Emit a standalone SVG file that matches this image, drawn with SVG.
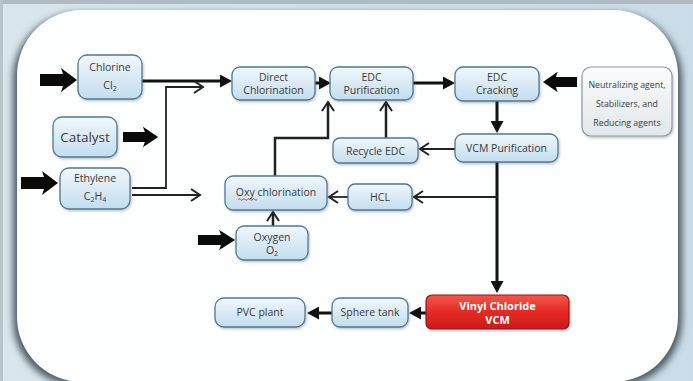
<svg xmlns="http://www.w3.org/2000/svg" width="693" height="381" viewBox="0 0 693 381">
<defs>
<style>
.nd rect{fill:url(#gBlue);stroke:#527890;stroke-width:1.3;filter:url(#sh)}
.t{font-family:"Open Sans","Noto Sans","Liberation Sans",sans-serif;font-size:10.5px;fill:#3a3a3a;text-anchor:middle}
.sub{font-size:7px}
.thick{stroke:#111;stroke-width:3;fill:none;marker-end:url(#solid)}
.thin{stroke:#222;stroke-width:1.8;fill:none;marker-end:url(#chev)}
.mid{stroke:#222;stroke-width:2.5;fill:none;marker-end:url(#chev)}
.blk{fill:#0a0a0a}
</style>
<linearGradient id="gBlue" x1="0" y1="0" x2="0" y2="1">
<stop offset="0" stop-color="#f0f7fc"/><stop offset="1" stop-color="#c3ddee"/>
</linearGradient>
<linearGradient id="gGrey" x1="0" y1="0" x2="0" y2="1">
<stop offset="0" stop-color="#fbfcfd"/><stop offset="1" stop-color="#e1e7eb"/>
</linearGradient>
<linearGradient id="gRed" x1="0" y1="0" x2="0" y2="1">
<stop offset="0" stop-color="#f4564a"/><stop offset="0.5" stop-color="#e42a24"/><stop offset="1" stop-color="#cc1a1a"/>
</linearGradient>
<linearGradient id="gBg" x1="0" y1="0" x2="1" y2="0">
<stop offset="0" stop-color="#d9e6ee"/><stop offset="1" stop-color="#c9dce7"/>
</linearGradient>
<filter id="sh" x="-20%" y="-20%" width="140%" height="150%">
<feDropShadow dx="1" dy="1.5" stdDeviation="1" flood-color="#4a5a66" flood-opacity="0.35"/>
</filter>
<filter id="cardSh" x="-10%" y="-10%" width="120%" height="120%">
<feGaussianBlur stdDeviation="3.5"/>
</filter>
<marker id="solid" markerUnits="userSpaceOnUse" markerWidth="12" markerHeight="13" viewBox="0 0 12 13" refX="1" refY="6.5" orient="auto">
<path d="M0,0 L12,6.5 L0,13 z" fill="#111"/>
</marker>
<marker id="chev" markerUnits="userSpaceOnUse" markerWidth="12" markerHeight="14" viewBox="-1 -1 12 14" refX="9" refY="6" orient="auto">
<path d="M0,0 L9,6 L0,12" fill="none" stroke="#222" stroke-width="2"/>
</marker>
<path id="blkArrow" d="M0,-6 L23,-6 L21,-12 L37,0 L21,12 L23,6 L0,6 z"/>
</defs>

<!-- background -->
<rect x="0" y="0" width="693" height="381" fill="url(#gBg)"/>
<rect x="0" y="0" width="693" height="4" fill="#b0bac2"/>
<rect x="0" y="0" width="3" height="381" fill="#b9c5cd"/>
<rect x="13" y="13" width="669" height="373" rx="66" fill="#4e5a62" filter="url(#cardSh)"/>
<rect x="17" y="10" width="661" height="372" rx="65" fill="#fdfefe"/>

<!-- input block arrows -->
<g id="inputs" class="blk">
<use href="#blkArrow" transform="translate(40,80)"/>
<use href="#blkArrow" transform="translate(123,137) scale(0.95,0.85)"/>
<use href="#blkArrow" transform="translate(21,183)"/>
<use href="#blkArrow" transform="translate(198,240) scale(1,0.85)"/>
<use href="#blkArrow" transform="translate(577,82) scale(-0.92,0.85)"/>
</g>

<!-- connectors -->
<g id="connectors">
<line class="thick" x1="142" y1="81" x2="221" y2="81"/>
<polyline class="thin" points="132,188 166,188 166,87 203,87"/>
<line class="thin" x1="132" y1="195" x2="200" y2="195"/>
<line class="thick" x1="315" y1="83" x2="320" y2="83"/>
<line class="thick" x1="413" y1="83" x2="444" y2="83"/>
<line class="thick" x1="497" y1="101" x2="497" y2="122"/>
<line class="thick" x1="497" y1="162" x2="497" y2="282"/>
<line class="thin" x1="455" y1="149" x2="420" y2="149"/>
<line class="thin" x1="497" y1="197" x2="414" y2="197"/>
<line class="thin" x1="348" y1="197" x2="329" y2="197"/>
<line class="mid" x1="273" y1="226" x2="273" y2="212"/>
<line class="mid" x1="386" y1="138" x2="386" y2="102"/>
<polyline class="mid" points="275,176 275,138 328,138 328,102"/>
<line class="thick" x1="426" y1="313" x2="420" y2="313"/>
<line class="thick" x1="332" y1="313" x2="318" y2="313"/>
</g>

<!-- nodes -->
<g id="chlorine" class="nd"><rect x="78" y="55" width="64" height="44" rx="9"/>
<text class="t" x="110" y="71">Chlorine</text><text class="t" x="110" y="89">Cl<tspan class="sub" dy="2">2</tspan></text></g>

<g id="catalyst" class="nd"><rect x="53" y="117" width="64" height="40" rx="9"/>
<text class="t" x="85" y="142" style="font-size:13.5px">Catalyst</text></g>

<g id="ethylene" class="nd"><rect x="60" y="168" width="70" height="41" rx="9"/>
<text class="t" x="95" y="182">Ethylene</text><text class="t" x="95" y="200">C<tspan class="sub" dy="2">2</tspan><tspan dy="-2">H</tspan><tspan class="sub" dy="2">4</tspan></text></g>

<g id="direct-chlorination" class="nd"><rect x="232" y="67" width="83" height="33" rx="8"/>
<text class="t" x="273.5" y="81">Direct</text><text class="t" x="273.5" y="94">Chlorination</text></g>

<g id="edc-purification" class="nd"><rect x="330" y="67" width="83" height="33" rx="8"/>
<text class="t" x="371.5" y="81">EDC</text><text class="t" x="371.5" y="94">Purification</text></g>

<g id="edc-cracking" class="nd"><rect x="455" y="67" width="84" height="34" rx="8"/>
<text class="t" x="497" y="81">EDC</text><text class="t" x="497" y="94">Cracking</text></g>

<g id="additives"><rect x="582" y="67" width="90" height="69" rx="9" fill="url(#gGrey)" stroke="#8d989f" stroke-width="1.2" filter="url(#sh)"/>
<text class="t" x="627" y="88" style="font-size:8.8px">Neutralizing agent,</text>
<text class="t" x="627" y="107" style="font-size:8.8px">Stabilizers, and</text>
<text class="t" x="627" y="126" style="font-size:8.8px">Reducing agents</text></g>

<g id="recycle-edc" class="nd"><rect x="333" y="138" width="85" height="25" rx="7"/>
<text class="t" x="375.5" y="154.5">Recycle EDC</text></g>

<g id="vcm-purification" class="nd"><rect x="455" y="134" width="103" height="28" rx="8"/>
<text class="t" x="506.5" y="151.5">VCM Purification</text></g>

<g id="oxy-chlorination" class="nd"><rect x="225" y="176" width="102" height="34" rx="8"/>
<text class="t" x="276" y="195.5">Oxy chlorination</text>
<path d="M238,199.5 q1.2,-1.5 2.4,0 t2.4,0 t2.4,0 t2.4,0 t2.4,0 t2.4,0 t2.4,0 t2.4,0" fill="none" stroke="#e02020" stroke-width="0.9"/></g>

<g id="hcl" class="nd"><rect x="348" y="184" width="64" height="26" rx="7"/>
<text class="t" x="380" y="200.5">HCL</text></g>

<g id="oxygen" class="nd"><rect x="236" y="226" width="72" height="34" rx="8"/>
<text class="t" x="272" y="240.5">Oxygen</text><text class="t" x="272" y="254">O<tspan class="sub" dy="2">2</tspan></text></g>

<g id="vinyl-chloride"><rect x="426" y="295" width="143" height="34" rx="6" fill="url(#gRed)" stroke="#9c1010" stroke-width="1.2" filter="url(#sh)"/>
<text class="t" x="497.5" y="310" style="font-size:11px;font-weight:bold;fill:#ffffff">Vinyl Chloride</text>
<text class="t" x="497.5" y="324" style="font-size:11px;font-weight:bold;fill:#ffffff">VCM</text></g>

<g id="sphere-tank" class="nd"><rect x="332" y="298" width="76" height="29" rx="8"/>
<text class="t" x="370" y="316">Sphere tank</text></g>

<g id="pvc-plant" class="nd"><rect x="215" y="298" width="90" height="29" rx="9"/>
<text class="t" x="260" y="316">PVC plant</text></g>
</svg>
